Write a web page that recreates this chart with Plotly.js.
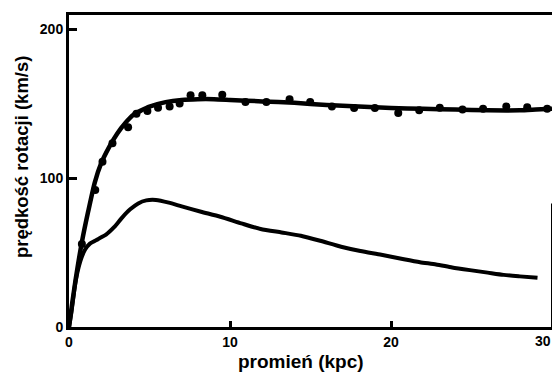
<!DOCTYPE html>
<html>
<head>
<meta charset="utf-8">
<script src="https://cdn.plot.ly/plotly-3.0.1.min.js"></script>
<style>html,body{margin:0;padding:0;background:#fff;}#chart{width:553px;height:378px;}</style>
</head>
<body>
<div id="chart"></div>
<script>
// Observed rotation velocities (dots)
const obsR = [0.8, 1.63, 2.08, 2.7, 3.67, 4.19, 4.87, 5.53, 6.25, 6.87, 7.55, 8.28, 9.52, 10.96, 12.26, 13.7, 14.98, 16.33, 17.71, 19.0, 20.45, 21.75, 23.03, 24.44, 25.72, 27.16, 28.46, 29.7];
const obsV = [55.7, 92, 111, 123.4, 134.2, 143.2, 145, 147.3, 148.1, 150, 155.6, 155.6, 156, 151, 151, 152.9, 151, 148.1, 147, 147, 143.7, 145.5, 147.3, 146.1, 146.6, 148.1, 147.6, 146.6];

// Fitted total rotation curve (upper line)
const fitR = [0, 0.2, 0.4, 0.8, 1.2, 1.6, 2.0, 2.5, 3.0, 3.5, 4.0, 4.5, 5, 6, 7, 8, 9, 10, 12, 14, 16, 18, 20, 22, 24, 26, 28, 29, 30];
const fitV = [0, 16, 31, 57, 78, 97, 110, 121, 130, 137, 142.5, 145.5, 148, 151, 152.5, 153, 153, 152.5, 151.5, 150.5, 149, 148, 147, 146.5, 146, 145.5, 145.5, 146, 146.5];

// Visible-matter curve (lower line)
const diskR = [0, 0.15, 0.4, 0.7, 1.0, 1.3, 1.8, 2.3, 2.8, 3.3, 3.8, 4.3, 4.8, 5.4, 6.2, 7, 8.2, 9.4, 10.7, 11.9, 13.2, 14.4, 15.6, 16.9, 18.1, 19.4, 20.8, 21.8, 22.8, 23.8, 24.9, 26, 27, 28, 29.1];
const diskV = [0, 10, 30, 44, 52, 56, 59, 62, 67, 73.5, 79, 83, 85, 85.3, 83.5, 81, 77.4, 74, 69.6, 65.8, 63.5, 61.3, 57.9, 53.9, 51, 48.5, 45.5, 43.5, 42, 40, 38.2, 36.5, 35, 34, 33];

// Axis ticks and titles
const xTicks = [0, 10, 20];
const xEdgeTick = 30;
const yTicks = [0, 100, 200];
const xTitle = 'promień (kpc)';
const yTitle = 'prędkość rotacji (km/s)';

const tickFont = {family: 'Liberation Sans, Arial, sans-serif', size: 14, color: '#000', weight: 'bold'};
const xTitleFont = {family: 'Liberation Sans, Arial, sans-serif', size: 19, color: '#000', weight: 'bold'};
const yTitleFont = {family: 'Liberation Sans, Arial, sans-serif', size: 18.5, color: '#000', weight: 'bold'};

const traces = [
  {x: fitR, y: fitV, mode: 'lines', line: {color: '#000', width: 4.5, shape: 'spline', smoothing: 0.6}, hoverinfo: 'skip'},
  {x: diskR, y: diskV, mode: 'lines', line: {color: '#000', width: 4, shape: 'spline', smoothing: 0.6}, hoverinfo: 'skip'},
  {x: obsR, y: obsV, mode: 'markers', marker: {color: '#000', size: 8}, hoverinfo: 'skip'}
];

const layout = {
  width: 553, height: 378,
  margin: {l: 69, r: 1, t: 15, b: 51},
  paper_bgcolor: '#fff', plot_bgcolor: '#fff',
  showlegend: false,
  xaxis: {
    range: [0, 30], showgrid: false, zeroline: false,
    showline: true, linecolor: '#000', linewidth: 3, mirror: true,
    tickmode: 'array', tickvals: xTicks, ticktext: xTicks.map(String),
    ticks: 'inside', ticklen: 6, tickwidth: 3, tickcolor: '#000',
    tickfont: tickFont
  },
  yaxis: {
    range: [0, 209.5], showgrid: false, zeroline: false,
    showline: true, linecolor: '#000', linewidth: 3,
    tickmode: 'array', tickvals: yTicks, ticktext: yTicks.map(String),
    ticks: 'inside', ticklen: 8, tickwidth: 3, tickcolor: '#000',
    tickfont: tickFont
  },
  shapes: [
    {type: 'line', xref: 'x', yref: 'y', x0: 30, x1: 30, y0: 0, y1: 83, line: {color: '#000', width: 2}}
  ],
  annotations: [
    {x: xEdgeTick, y: 0, xref: 'x', yref: 'y', text: String(xEdgeTick), showarrow: false,
     xanchor: 'right', yanchor: 'top', yshift: -4, xshift: 1, font: tickFont},
    {x: 0.481, y: -0.109, xref: 'paper', yref: 'paper', text: xTitle, showarrow: false,
     xanchor: 'center', yanchor: 'middle', font: xTitleFont},
    {x: -0.097, y: 0.545, xref: 'paper', yref: 'paper', text: yTitle, showarrow: false, textangle: -90,
     xanchor: 'center', yanchor: 'middle', font: yTitleFont}
  ]
};

Plotly.newPlot('chart', traces, layout, {staticPlot: true, displayModeBar: false});
</script>
</body>
</html>
